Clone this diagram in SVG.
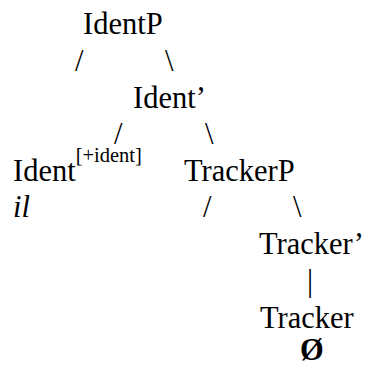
<svg xmlns="http://www.w3.org/2000/svg" width="367" height="366" viewBox="0 0 367 366">
<style>
text{font-family:"Liberation Serif","Times New Roman",serif;font-size:30.5px;fill:#000}
.it{font-style:italic}
.b{font-weight:bold}
.sup{font-size:20.5px}
</style>
<rect width="367" height="366" fill="#fff"/>
<g id="connectors">
<text x="75" y="70.5">/</text>
<text x="165" y="70.5">\</text>
<text x="114" y="144">/</text>
<text x="205" y="144">\</text>
<text x="203" y="217">/</text>
<text x="293" y="217">\</text>
<text x="307" y="290.5">|</text>
</g>
<g id="identP"><text x="83" y="34">IdentP</text></g>
<g id="identBar"><text x="133" y="107.5">Ident’</text></g>
<g id="ident"><text x="13" y="180.5">Ident<tspan class="sup" dy="-19">[+ident]</tspan></text></g>
<g id="il"><text class="it" x="13" y="217">il</text></g>
<g id="trackerP"><text x="184" y="180.5">TrackerP</text></g>
<g id="trackerBar"><text x="259" y="254">Tracker’</text></g>
<g id="tracker"><text x="260" y="327.5">Tracker</text></g>
<g id="empty"><text class="b" x="300" y="359.5">Ø</text></g>
</svg>
